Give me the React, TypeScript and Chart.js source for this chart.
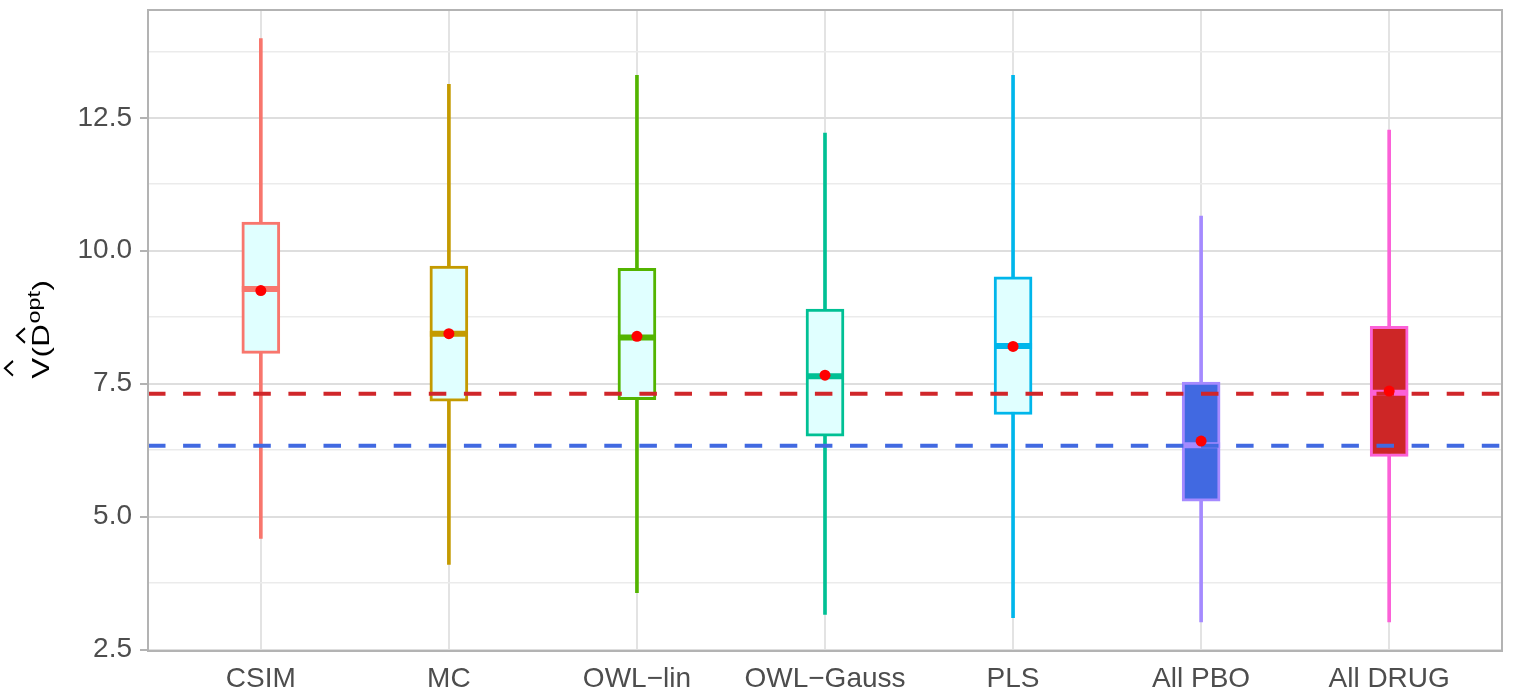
import React, { useEffect, useRef } from "react";
import { Chart, registerables } from "chart.js";

Chart.register(...registerables);

// ---- data ----
const CATEGORIES = ["CSIM", "MC", "OWL\u2212lin", "OWL\u2212Gauss", "PLS", "All PBO", "All DRUG"];
const WHISKER_LOW = [4.59, 4.1, 3.57, 3.16, 3.1, 3.02, 3.02];
const WHISKER_HIGH = [13.99, 13.13, 13.3, 12.21, 13.3, 10.65, 12.27];
const Q1 = [8.07, 7.17, 7.2, 6.51, 6.92, 5.29, 6.13];
const Q3 = [10.54, 9.71, 9.67, 8.9, 9.51, 7.53, 8.58];
const MEDIAN = [9.28, 8.44, 8.37, 7.64, 8.21, 6.34, 7.33];
const MEAN = [9.25, 8.44, 8.39, 7.66, 8.2, 6.42, 7.36];
const REF_DRUG = 7.31;
const REF_PBO = 6.33;
const Y_MAJOR_TICKS = [2.5, 5.0, 7.5, 10.0, 12.5];
const Y_MINOR_TICKS = [3.75, 6.25, 8.75, 11.25, 13.75];

// ---- styles ----
const LINE_COLORS = ["#F8766D", "#C49A00", "#53B400", "#00C094", "#00B6EB", "#A58AFF", "#FB61D7"];
const FILL_COLORS = ["#E0FFFF", "#E0FFFF", "#E0FFFF", "#E0FFFF", "#E0FFFF", "#4169E1", "#CD2626"];
const DRUG_LINE = "#D0262A";
const PBO_LINE = "#4169E1";
const X_MIN = -0.6;
const X_MAX = CATEGORIES.length - 1 + 0.6;
const Y_MIN = 2.472;
const Y_MAX = 14.527;
const FONT = "'Liberation Sans', Arial, Helvetica, sans-serif";

const isMajor = (v: number) => Y_MAJOR_TICKS.some((t) => Math.abs(t - v) < 1e-6);

function drawHat(ctx: CanvasRenderingContext2D, cu: number, base: number) {
  ctx.beginPath();
  ctx.moveTo(cu - 5.6, base);
  ctx.lineTo(cu, base - 8);
  ctx.lineTo(cu + 5.6, base);
  ctx.stroke();
}

const frameAndTitle = {
  id: "frameAndTitle",
  afterDraw(chart: any) {
    const { ctx, chartArea } = chart;
    ctx.save();
    ctx.strokeStyle = "#B3B3B3";
    ctx.lineWidth = 2;
    ctx.strokeRect(chartArea.left, chartArea.top, chartArea.right - chartArea.left, chartArea.bottom - chartArea.top);
    ctx.restore();

    // y axis title: V-hat ( D-hat ^opt )
    const cy = 330;
    ctx.save();
    ctx.translate(49, cy);
    ctx.rotate(-Math.PI / 2);
    ctx.scale(1.3, 1);
    ctx.fillStyle = "#000000";
    ctx.strokeStyle = "#000000";
    ctx.lineWidth = 1.8;
    ctx.lineJoin = "miter";
    ctx.textBaseline = "alphabetic";
    ctx.textAlign = "left";
    const big = `24px ${FONT}`;
    const sup = `18px ${FONT}`;
    let u = -37.5;
    ctx.font = big;
    const wV = ctx.measureText("V").width;
    ctx.fillText("V", u, 0);
    const vCenter = u + wV / 2;
    u += wV + 0.3;
    const wP = ctx.measureText("(").width;
    ctx.fillText("(", u, 0);
    u += wP + 0.3;
    const wD = ctx.measureText("D").width;
    ctx.fillText("D", u, 0);
    const dCenter = u + wD / 2;
    u += wD + 0.6;
    ctx.font = sup;
    const wOpt = ctx.measureText("opt").width;
    ctx.fillText("opt", u, -9);
    u += wOpt + 0.3;
    ctx.font = big;
    ctx.fillText(")", u, 0);
    drawHat(ctx, vCenter, -36);
    drawHat(ctx, dCenter, -24);
    ctx.restore();
  },
};

export default function App() {
  const ref = useRef<HTMLCanvasElement | null>(null);

  useEffect(() => {
    if (!ref.current) return;
    const idx = CATEGORIES.map((_, i) => i);
    const chart = new Chart(ref.current, {
      type: "bar",
      data: {
        datasets: [
          {
            type: "bar",
            label: "whiskers",
            data: idx.map((i) => ({ x: i, y: [WHISKER_LOW[i], WHISKER_HIGH[i]] })) as any,
            backgroundColor: LINE_COLORS,
            borderWidth: 0,
            barThickness: 3,
            grouped: false,
            order: 6,
          } as any,
          {
            type: "bar",
            label: "boxes",
            data: idx.map((i) => ({ x: i, y: [Q1[i], Q3[i]] })) as any,
            backgroundColor: FILL_COLORS,
            borderColor: LINE_COLORS,
            borderWidth: 3,
            borderSkipped: false,
            barThickness: 38,
            grouped: false,
            order: 5,
          } as any,
          {
            type: "scatter",
            label: "medians",
            data: idx.map((i) => ({ x: i, y: MEDIAN[i] })),
            pointStyle: "line",
            pointRadius: 19,
            pointHoverRadius: 19,
            pointBorderWidth: 6,
            pointHoverBorderWidth: 6,
            pointBorderColor: LINE_COLORS,
            order: 4,
          } as any,
          {
            type: "line",
            label: "drug",
            data: [
              { x: X_MIN, y: REF_DRUG },
              { x: X_MAX, y: REF_DRUG },
            ],
            borderColor: DRUG_LINE,
            borderWidth: 4,
            borderDash: [17.5, 17.6],
            pointRadius: 0,
            order: 3,
          } as any,
          {
            type: "line",
            label: "pbo",
            data: [
              { x: X_MIN, y: REF_PBO },
              { x: X_MAX, y: REF_PBO },
            ],
            borderColor: PBO_LINE,
            borderWidth: 4,
            borderDash: [17.5, 17.6],
            pointRadius: 0,
            order: 2,
          } as any,
          {
            type: "scatter",
            label: "means",
            data: idx.map((i) => ({ x: i, y: MEAN[i] })),
            pointStyle: "circle",
            pointRadius: 5.5,
            pointHoverRadius: 5.5,
            pointBackgroundColor: "#FF0000",
            pointBorderWidth: 0,
            order: 1,
          } as any,
        ],
      },
      options: {
        responsive: false,
        animation: false,
        events: [],
        layout: { autoPadding: false, padding: { left: 0, top: 10, right: 11, bottom: 0 } },
        plugins: { legend: { display: false }, tooltip: { enabled: false } },
        scales: {
          x: {
            type: "linear",
            min: X_MIN,
            max: X_MAX,
            offset: false,
            afterBuildTicks: (scale: any) => {
              scale.ticks = CATEGORIES.map((_, i) => ({ value: i }));
            },
            afterFit: (scale: any) => {
              scale.height = 48;
              scale.paddingLeft = 0;
              scale.paddingRight = 0;
            },
            border: { display: false },
            grid: { color: "#E3E3E3", lineWidth: 2, drawTicks: false, offset: false },
            ticks: {
              autoSkip: false,
              maxRotation: 0,
              padding: 11,
              color: "#4D4D4D",
              font: { family: FONT, size: 28 },
              callback: (v: any) => CATEGORIES[Math.round(Number(v))] ?? "",
            },
          },
          y: {
            type: "linear",
            min: Y_MIN,
            max: Y_MAX,
            afterBuildTicks: (scale: any) => {
              scale.ticks = [...Y_MAJOR_TICKS, ...Y_MINOR_TICKS].sort((a, b) => a - b).map((v) => ({ value: v }));
            },
            afterFit: (scale: any) => {
              scale.width = 148;
              scale.paddingTop = 0;
              scale.paddingBottom = 0;
            },
            border: { display: false },
            grid: {
              color: (c: any) => (c.tick && isMajor(c.tick.value) ? "#DEDEDE" : "#EBEBEB"),
              lineWidth: (c: any) => (c.tick && isMajor(c.tick.value) ? 2 : 1.6),
              tickColor: (c: any) => (c.tick && isMajor(c.tick.value) ? "#B3B3B3" : "rgba(0,0,0,0)"),
              tickLength: 8,
              tickWidth: 2,
              drawTicks: true,
            },
            ticks: {
              autoSkip: false,
              padding: 8,
              color: "#4D4D4D",
              font: { family: FONT, size: 28 },
              callback: (v: any) => (isMajor(Number(v)) ? Number(v).toFixed(1) : ""),
            },
          },
        },
      },
      plugins: [frameAndTitle],
    } as any);
    return () => chart.destroy();
  }, []);

  return (
    <div style={{ position: "fixed", left: 0, top: 0, width: 1513, height: 699, background: "#FFFFFF" }}>
      <canvas ref={ref} width={1513} height={699} style={{ width: 1513, height: 699, display: "block" }} />
    </div>
  );
}
